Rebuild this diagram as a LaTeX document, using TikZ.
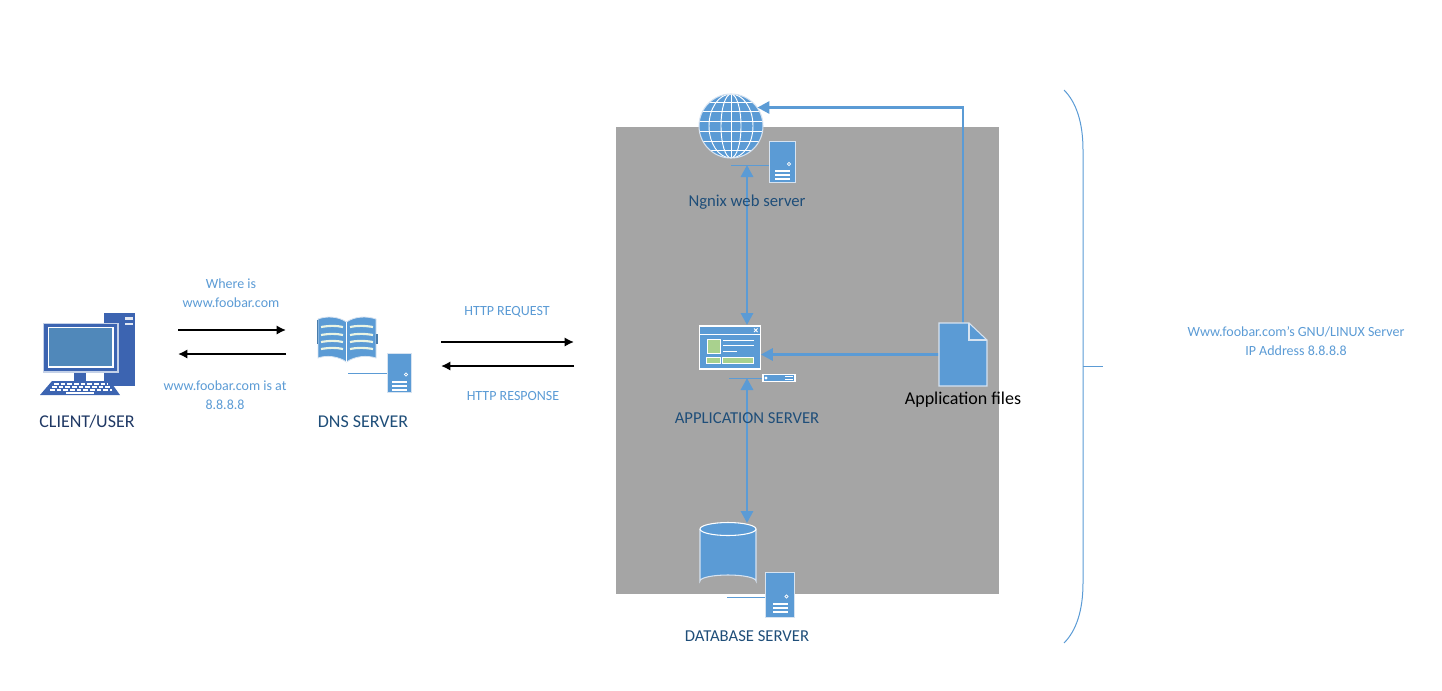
\documentclass[tikz,border=0pt]{standalone}
\usepackage{fontspec}
\setmainfont{Carlito}
\usetikzlibrary{arrows.meta}
\definecolor{iconblue}{HTML}{5B9BD5}
\definecolor{iconedge}{HTML}{D6E3F1}
\definecolor{pcblue}{HTML}{3C64B1}
\definecolor{screenblue}{HTML}{5088BA}
\definecolor{boxgray}{HTML}{A5A5A5}
\definecolor{leafgreen}{HTML}{A9D18E}
\definecolor{darktitle}{HTML}{1F3864}
\definecolor{navytitle}{HTML}{1F4E79}

\tikzset{
  hub/.style={iconblue, line width=0.75pt},
  flow/.style={iconblue, line width=2.2pt, {Triangle[length=9pt,width=9pt]}-{Triangle[length=9pt,width=9pt]}},
  oneway/.style={iconblue, line width=2.2pt, -{Triangle[length=9pt,width=9pt]}},
  exchange/.style={black, line width=1.6pt, -{Latex[length=7pt,width=7pt]}},
  title/.style={text=navytitle, font=\fontsize{13.5}{16}\selectfont, inner sep=0pt},
  note/.style={text=iconblue, font=\fontsize{10.5}{14.2}\selectfont, align=center, inner sep=0pt},
  towerbox/.style={draw=iconedge, fill=iconblue, line width=0.6pt, inner sep=0pt},
}

% white dot and bars on a server tower
\newcommand{\towerbars}[1]{
  \begin{scope}[shift={(#1.center)}]
    \draw[white, line width=0.6pt] (7,2) circle (1.6);
    \fill[white] (-7,8) rectangle (8,10);
    \fill[white] (-7,12) rectangle (8,14);
    \fill[white] (-7,16) rectangle (8,18);
  \end{scope}
}

\begin{document}
\begin{tikzpicture}[x=0.75pt,y=-0.75pt]
\useasboundingbox (0,0) rectangle (1442,690);

% Gray box behind the servers
\fill[boxgray] (616,127) rectangle (999,594);

% Client computer
\node[minimum width=31*0.75pt, minimum height=73*0.75pt, fill=pcblue, inner sep=0pt] (clienttower) at (119.5,349.5) {};
\fill[white!85!pcblue] (125,317) rectangle (133,320);
\fill[white!85!pcblue] (125,323) rectangle (133,325);
\fill[pcblue] (74,372) rectangle (86,381);
\draw[fill=pcblue, draw=white!70!pcblue, line width=0.8pt] (43.5,323.5) rectangle (118,372);
\draw[fill=screenblue, draw=white, line width=0.8pt] (48.5,327.5) rectangle (113,367);
\fill[pcblue] (52,381) -- (110,381) -- (120,395) -- (40,395) -- cycle;
\foreach \row/\xa/\xb in {384/54/108, 387/52/110, 390/50/112} {
  \draw[white, line width=1.5pt, dash pattern=on 3.5 off 1.5] (\xa,\row) -- (\xb,\row);
}
\fill[white] (66,392) rectangle (94,394);

% DNS book
\draw[iconedge, fill=iconblue, line width=0.6pt] (346.5,322) .. controls (338,316) and (326,316) .. (318,319)
  -- (318,358) .. controls (326,355) and (338,356) .. (346.5,362)
  .. controls (355,356) and (367,355) .. (376,358) -- (376,319)
  .. controls (367,316) and (355,316) .. (346.5,322) -- cycle;
\draw[white, line width=0.8pt] (346.5,322) -- (346.5,362);
\foreach \yy in {327,335,342,349} {
  \draw[white!75!leafgreen, line width=1.6pt] (321,\yy) .. controls (330,\yy-1.5) and (336,\yy-1.5) .. (343,\yy);
  \draw[white!75!leafgreen, line width=1.6pt] (350,\yy) .. controls (357,\yy-1.5) and (364,\yy-1.5) .. (373,\yy);
}
\fill[iconblue!80!black] (316.5,320) rectangle (318,344);
\fill[iconblue!80!black] (376,334) rectangle (377.5,344);
\draw[white, line width=0.7pt] (318,361) .. controls (330,358) and (338,359) .. (346.5,364) .. controls (355,359) and (364,358) .. (376,361);

% Server towers
\node[towerbox, minimum width=24*0.75pt, minimum height=39*0.75pt] (dnstower) at (399,372.5) {};
\node[towerbox, minimum width=26*0.75pt, minimum height=41*0.75pt] (webtower) at (782,162) {};
\node[towerbox, minimum width=29*0.75pt, minimum height=45*0.75pt] (dbtower) at (779.5,594.5) {};
\towerbars{dnstower}
\towerbars{webtower}
\towerbars{dbtower}

% Hub lines
\coordinate (dnshub) at (348,373);
\coordinate (webhub) at (731,165);
\coordinate (webmid) at (747,165);
\coordinate (apphub) at (729,378);
\coordinate (appmid) at (747,378);
\coordinate (dbhub) at (727,597);
\coordinate (dbmid) at (747,523);
\coordinate (apptop) at (747,325);

% Globe
\node[circle, minimum size=64*0.75pt, fill=iconblue, inner sep=0pt] (globe) at (731,126) {};
\begin{scope}
  \clip (731,126) circle (32);
  \foreach \yy in {-24,-15,-5,5,15,24} {
    \draw[white, line width=0.7pt] (699,126+\yy) -- (763,126+\yy);
  }
  \foreach \rx in {10,22} {
    \draw[white, line width=0.7pt] (731,126) ellipse [x radius=\rx, y radius=32];
  }
  \draw[white, line width=0.7pt] (731,94) -- (731,158);
\end{scope}
\draw[iconedge, line width=0.8pt] (731,126) circle (32);

% Application window
\node[draw=white, fill=iconblue, line width=0.8pt, minimum width=61*0.75pt, minimum height=43*0.75pt, inner sep=0pt] (appwin) at (729.8,347.5) {};
\draw[white, line width=0.7pt] (699.5,334) -- (760,334);
\draw[white, line width=0.7pt] (754,328.5) -- (757.5,332) (757.5,328.5) -- (754,332);
\draw[white, fill=leafgreen, line width=0.7pt] (707,339.5) rectangle (720,353);
\draw[white, fill=leafgreen, line width=0.7pt] (706,357) rectangle (720,363.5);
\draw[white, fill=leafgreen, line width=0.7pt] (722,357) rectangle (753,363.5);
\draw[white, line width=0.7pt] (723,340.5) -- (754,340.5);
\draw[white, line width=0.7pt] (723,345) -- (754,345);
\draw[white, line width=0.7pt] (723,351) -- (737,351);

% Rack server under the window
\node[draw=white, fill=iconblue, line width=0.8pt, minimum width=32*0.75pt, minimum height=7.5*0.75pt, inner sep=0pt] (apprack) at (779,378) {};
\draw[white, line width=0.6pt] (766,378) circle (1);
\draw[white, line width=0.6pt] (785,376.5) -- (793,376.5) (785,379.5) -- (793,379.5);

% Database cylinder
\coordinate (dbcenter) at (728,555);
\draw[iconedge, fill=iconblue, line width=0.8pt] (700,529) -- (700,581) arc[start angle=180, end angle=360, x radius=28, y radius=6] -- (756,529);
\draw[white, fill=iconblue, line width=0.8pt] (728,529) ellipse [x radius=28, y radius=6.5];

% Application file
\node[minimum width=48*0.75pt, minimum height=63*0.75pt, inner sep=0pt] (appfile) at (963,354.5) {};
\draw[oneway] (appfile.north) |- (globe.35);
\draw[oneway] (appfile.west) -- (appwin.east |- appfile.west);
\draw[iconedge, fill=iconblue, line width=0.8pt] (939,323) -- (969,323) -- (987,340) -- (987,386) -- (939,386) -- cycle;
\draw[iconedge, line width=0.8pt] (969,323) -- (969,340) -- (987,340);

% Hub lines and server links
\draw[hub] (dnshub) -- (dnstower.west |- dnshub);
\draw[hub] (webhub) -- (webtower.west |- webhub);
\draw[hub] (apphub) -- (apprack.west);
\draw[hub] (dbhub) -- (dbtower.west |- dbhub);
\draw[flow] (webmid) -- (apptop);
\draw[flow] (appmid) -- (dbmid);

% Black arrows
\coordinate (clientout) at (178,330);
\coordinate (dnsin) at (286,330);
\coordinate (dnsback) at (286,354);
\coordinate (clientin) at (178,354);
\coordinate (dnsout) at (441,342);
\coordinate (boxin) at (574,342);
\coordinate (boxback) at (574,366);
\coordinate (dnsreturn) at (441,366);
\draw[exchange] (clientout) -- (dnsin);
\draw[exchange] (dnsback) -- (clientin);
\draw[exchange] (dnsout) -- (boxin);
\draw[exchange] (boxback) -- (dnsreturn);

% Brace on the right
\coordinate (bracetop) at (1064,90);
\coordinate (bracemid) at (1083,366);
\coordinate (braceend) at (1103,366);
\coordinate (bracebot) at (1064,643);
\draw[iconblue, line width=0.75pt] (bracetop) .. controls (1076,102) and (1083,122) .. (1083,150)
  -- (bracemid) -- (1083,583) .. controls (1083,611) and (1076,631) .. (bracebot);
\draw[iconblue, line width=0.75pt] (bracemid) -- (braceend);

% Labels
\node[title, text=darktitle] (clientlabel) at (87,422) {CLIENT/USER};
\node[title] (dnslabel) at (363,421.5) {DNS SERVER};
\node[title, font=\fontsize{12.5}{15}\selectfont] (weblabel) at (747,202) {Ngnix web server};
\node[title, font=\fontsize{12.5}{15}\selectfont] (applabel) at (747,418) {APPLICATION SERVER};
\node[title, font=\fontsize{12.5}{15}\selectfont] (dblabel) at (747,636) {DATABASE SERVER};
\node[title, text=black, font=\fontsize{13.5}{16}\selectfont] (filelabel) at (963,400) {Application files};
\node[note] (asklabel) at (231,293.5) {Where is\\www.foobar.com};
\node[note] (answerlabel) at (225,395.5) {www.foobar.com is at\\8.8.8.8};
\node[note] (reqlabel) at (507,312) {HTTP REQUEST};
\node[note] (resplabel) at (513,396) {HTTP RESPONSE};
\node[note] (serverlabel) at (1296,341.5) {Www.foobar.com’s GNU/LINUX Server\\IP Address 8.8.8.8};

\end{tikzpicture}
\end{document}
